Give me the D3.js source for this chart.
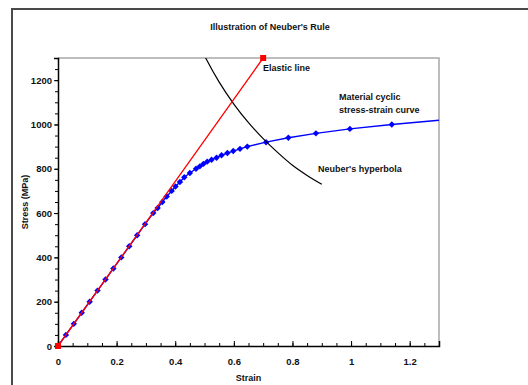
<!DOCTYPE html>
<html>
<head>
<meta charset="utf-8">
<script src="https://cdn.jsdelivr.net/npm/d3@7"></script>
<style>
  body { margin: 0; background: #fff; }
  svg text { font-family: "Liberation Sans", Arial, sans-serif; font-weight: bold; fill: #111; }
</style>
</head>
<body>
<div id="chart"></div>
<script>
// material cyclic stress-strain curve
const curveStrain = [0, 0.027, 0.054, 0.081, 0.108, 0.135, 0.162, 0.189, 0.216, 0.243, 0.27, 0.297,
  0.325, 0.340, 0.356, 0.371, 0.388, 0.401, 0.416, 0.431, 0.450, 0.471, 0.484, 0.496, 0.509, 0.524,
  0.541, 0.558, 0.578, 0.598, 0.621, 0.646, 0.71, 0.786, 0.88, 0.996, 1.139, 1.3];
const curveStress = [0, 50, 100, 150, 200, 250, 300, 350, 400, 450, 500, 550,
  600, 623, 650, 675, 700, 720, 740, 762, 781, 800, 811, 822, 832, 841,
  850, 861, 871, 880, 890, 900, 920, 940, 960, 980, 1000, 1019];

// elastic line
const elasticStrain = [0, 0.7];
const elasticStress = [0, 1300];

// Neuber's hyperbola
const neuberStrain = [0.47, 0.5, 0.55, 0.6, 0.65, 0.7, 0.75, 0.8, 0.85, 0.9];
const neuberStress = [1390, 1310, 1191, 1092, 1008, 936, 873, 816, 770, 730];

const xTicks = [0, 0.2, 0.4, 0.6, 0.8, 1, 1.2];
const yTicks = [0, 200, 400, 600, 800, 1000, 1200];

const W = 528, H = 385;
const margin = {top: 58, right: 89, bottom: 39, left: 58};
const chtW = W - margin.left - margin.right;
const chtH = H - margin.top - margin.bottom;

const svg = d3.select('#chart').append('svg').attr('width', W).attr('height', H);

// outer frame
svg.append('rect')
  .attr('x', 12).attr('y', 9).attr('width', 560).attr('height', 420)
  .attr('fill', 'none').attr('stroke', '#4a4a4a').attr('stroke-width', 2);

svg.append('text')
  .attr('x', 270).attr('y', 30)
  .attr('text-anchor', 'middle')
  .attr('font-size', 9)
  .text("Illustration of Neuber's Rule");

const g = svg.append('g').attr('transform', 'translate(' + margin.left + ',' + margin.top + ')');
const x = d3.scaleLinear().domain([0, 1.3]).range([0, chtW]);
const y = d3.scaleLinear().domain([0, 1300]).range([chtH, 0]);

svg.append('clipPath').attr('id', 'clip')
  .append('rect').attr('width', chtW).attr('height', chtH);

// top / right border
g.append('path')
  .attr('d', 'M0,0H' + chtW + 'V' + chtH)
  .attr('fill', 'none').attr('stroke', '#a8a8a8').attr('stroke-width', 1.5);

// minor ticks
g.append('g')
  .attr('transform', 'translate(0,' + chtH + ')')
  .call(d3.axisTop(x).tickValues(d3.range(0, 1.301, 0.05)).tickSize(3).tickFormat(''))
  .call(a => a.select('.domain').remove());
g.append('g')
  .call(d3.axisLeft(y).tickValues(d3.range(0, 1301, 50)).tickSize(3).tickFormat(''))
  .call(a => a.select('.domain').remove());

// major ticks + labels
const xAxis = g.append('g')
  .attr('transform', 'translate(0,' + chtH + ')')
  .call(d3.axisTop(x).tickValues(xTicks).tickSize(5).tickFormat(d3.format('')));
xAxis.selectAll('text').attr('y', 19).attr('dy', 0);
xAxis.selectAll('line').attr('y1', 1);

const yAxis = g.append('g')
  .call(d3.axisLeft(y).tickValues(yTicks).tickSize(4).tickFormat(d3.format('')));
yAxis.selectAll('text').attr('x', -6);

[xAxis, yAxis].forEach(a => {
  a.attr('font-size', null).attr('font-family', null);
  a.selectAll('text').attr('font-size', 9.5).attr('fill', '#111');
  a.select('.domain').attr('stroke', '#000').attr('stroke-width', 1.5);
});

g.selectAll('.tick line').attr('stroke', '#000');

// axis titles
svg.append('text')
  .attr('transform', 'translate(28,' + (margin.top + chtH / 2) + ') rotate(-90)')
  .attr('text-anchor', 'middle').attr('font-size', 9)
  .text('Stress (MPa)');
svg.append('text')
  .attr('x', margin.left + chtW / 2).attr('y', 381)
  .attr('text-anchor', 'middle').attr('font-size', 9)
  .text('Strain');

const plot = g.append('g').attr('clip-path', 'url(#clip)');

const pts = (xs, ys) => xs.map((v, i) => ({x: v, y: ys[i]}));
const line = d3.line().x(d => x(d.x)).y(d => y(d.y));

const curveData = pts(curveStrain, curveStress);
const neuberData = pts(neuberStrain, neuberStress);
const elasticData = pts(elasticStrain, elasticStress);

plot.append('path')
  .datum(curveData)
  .attr('fill', 'none').attr('stroke', '#0000ff').attr('stroke-width', 1.4)
  .attr('d', line);

plot.selectAll('.mk')
  .data(curveData.slice(1, -1))
  .enter().append('path')
  .attr('class', 'mk')
  .attr('transform', d => 'translate(' + x(d.x) + ',' + y(d.y) + ')')
  .attr('d', d3.symbol(d3.symbolDiamond2, 26))
  .attr('fill', '#0000ff');

plot.append('path')
  .datum(neuberData)
  .attr('fill', 'none').attr('stroke', '#000').attr('stroke-width', 1.2)
  .attr('d', d3.line().curve(d3.curveMonotoneX).x(d => x(d.x)).y(d => y(d.y)));

g.append('path')
  .datum(elasticData)
  .attr('fill', 'none').attr('stroke', '#ff0000').attr('stroke-width', 1.3)
  .attr('d', line);

g.selectAll('.sq')
  .data(elasticData)
  .enter().append('rect')
  .attr('x', d => x(d.x) - 3).attr('y', d => y(d.y) - 3)
  .attr('width', 6).attr('height', 6)
  .attr('fill', '#ff0000');

// annotations
const notes = [
  {t: 'Elastic line', x: 263, y: 71},
  {t: 'Material cyclic', x: 339, y: 100},
  {t: 'stress-strain curve', x: 339, y: 113},
  {t: "Neuber's hyperbola", x: 318, y: 172}
];
svg.selectAll('.note')
  .data(notes)
  .enter().append('text')
  .attr('class', 'note')
  .attr('x', d => d.x).attr('y', d => d.y)
  .attr('font-size', 9)
  .text(d => d.t);
</script>
</body>
</html>
